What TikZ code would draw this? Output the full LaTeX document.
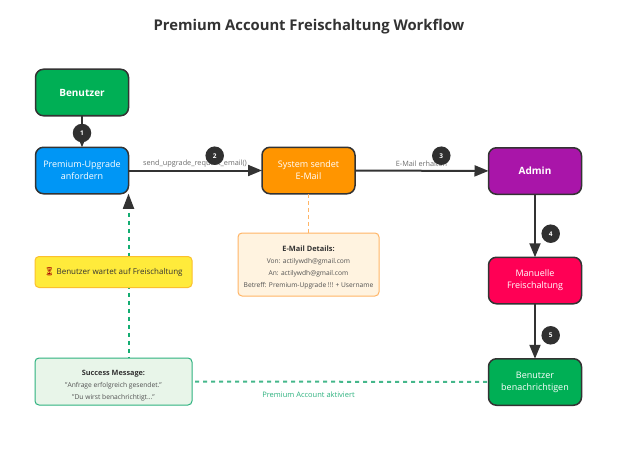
\documentclass[tikz,border=0pt]{standalone}
\usepackage{fontspec}
\setmainfont{Open Sans}
\newfontfamily\emojifont{Noto Emoji}
\usetikzlibrary{arrows.meta,calc}
\definecolor{ink}{HTML}{333333}
\definecolor{labelgray}{HTML}{6E6E6E}
\definecolor{cgreen}{HTML}{00AF55}
\definecolor{cblue}{HTML}{0096F5}
\definecolor{corange}{HTML}{FF9500}
\definecolor{cpurple}{HTML}{A915A9}
\definecolor{cred}{HTML}{FF0055}
\definecolor{cyellowf}{HTML}{FFEB3B}
\definecolor{cyellowd}{HTML}{FBC02D}
\definecolor{mailf}{HTML}{FFF3E0}
\definecolor{maild}{HTML}{FFB566}
\definecolor{okf}{HTML}{E8F5E9}
\definecolor{okd}{HTML}{2DB27F}
\definecolor{okline}{HTML}{14AD72}
\definecolor{oklight}{HTML}{45B78B}
\tikzset{
  x=1pt,y=-1pt,
  flowbox/.style={draw=ink,line width=1.5pt,rounded corners=8pt,minimum width=93pt,minimum height=46.5pt,
    inner sep=0pt,outer sep=0pt,text=white,font=\fontsize{9}{12.2}\selectfont,align=center},
  notebox/.style={draw,line width=1pt,rounded corners=4pt,inner sep=0pt,outer sep=0pt,align=center,text=ink},
  badge/.style={circle,fill=ink!95!black,text=white,minimum size=18.5pt,inner sep=0pt,font=\bfseries\fontsize{6.5}{7}\selectfont},
  flow/.style={draw=ink,line width=2pt,-{Triangle[length=14pt,width=11pt]}},
  oknote/.style={draw=okline,line width=2pt,dash pattern=on 4pt off 4pt},
  mailnote/.style={draw=maild,line width=1pt,dash pattern=on 4pt off 3pt},
  edgelabel/.style={text=labelgray,font=\fontsize{7.3}{8}\selectfont,inner sep=0pt}
}
\begin{document}
\begin{tikzpicture}
\useasboundingbox (0,0) rectangle (619,460);
\fill[white] (0,0) rectangle (619,460);
\node[font=\bfseries\fontsize{14.8}{17}\selectfont,text=ink] (title) at (309,26.5) {Premium Account Freischaltung Workflow};

\node[flowbox,fill=cgreen,font=\bfseries\fontsize{10}{12}\selectfont] (user) at (82,92.5) {Benutzer};
\node[flowbox,fill=cblue] (req) at (82,170.5) {Premium-Upgrade\\anfordern};
\node[flowbox,fill=corange] (sys) at (308.5,170.5) {System sendet\\E-Mail};
\node[flowbox,fill=cpurple,font=\bfseries\fontsize{10}{12}\selectfont] (admin) at (535,171) {Admin};
\node[flowbox,fill=cred] (manual) at (535,280.5) {Manuelle\\Freischaltung};
\node[flowbox,fill=cgreen] (notify) at (535,382) {Benutzer\\benachrichtigen};

% green dashed connector runs behind the notes
\draw[oknote] ($(req.south east)+(0,19)$) -- (req.south east |- 0,358) coordinate (okup);
\node[notebox,draw=cyellowd,fill=cyellowf,minimum width=157pt,minimum height=31pt,font=\fontsize{8}{10}\selectfont] (wait) at (113.5,272) {{\emojifont\textcolor{red!65!black}{⏳}} Benutzer wartet auf Freischaltung};
\node[notebox,draw=okd,fill=okf,minimum width=157pt,minimum height=47pt] (ok) at (113.5,381.5) {\rule{0pt}{14pt}{\bfseries\fontsize{7.3}{12}\selectfont Success Message:}\\{\fontsize{6.7}{12}\selectfont\color{ink!85}"Anfrage erfolgreich gesendet."}\\{\fontsize{6.7}{12}\selectfont\color{ink!85}"Du wirst benachrichtigt..."}};
\node[notebox,draw=maild,fill=mailf,minimum width=141pt,minimum height=63pt] (mail) at (308.5,264.5) {\rule{0pt}{11pt}{\bfseries\fontsize{7.4}{12}\selectfont E-Mail Details:}\\{\fontsize{6.65}{12}\selectfont\color{ink!85}Von: actilywdh@gmail.com}\\{\fontsize{6.65}{12}\selectfont\color{ink!85}An: actilywdh@gmail.com}\\{\fontsize{6.65}{12}\selectfont\color{ink!85}Betreff: Premium-Upgrade !!! + Username}};

\draw[-{Triangle[length=15pt,width=11.5pt]},draw=ink,fill=ink,draw opacity=0,line width=0pt] ($(req.south east)+(0,15)$) -- (req.south east);
\draw[oknote,draw=oklight] ($(ok.east)+(3,0)$) -- (notify.west);
\draw[mailnote] (sys.south) -- (mail.north);

\draw[flow] (user) -- (req);
\draw[flow] (req) -- (sys);
\draw[flow] (sys) -- (admin);
\draw[flow] (admin) -- (manual);
\draw[flow] (manual) -- (notify);

\node[edgelabel] (l2) at (195,164) {send\_upgrade\_request\_email()};
\node[edgelabel] (l3) at (421.5,164) {E-Mail erhalten};
\node[edgelabel,text=okd,font=\fontsize{7.5}{8}\selectfont] (l6) at (308.5,395) {Premium Account aktiviert};

\node[badge] (b1) at (82,133) {1};
\node[badge] (b2) at (214.7,155.7) {2};
\node[badge] (b3) at (441.3,155.7) {3};
\node[badge] (b4) at (550.7,233.7) {4};
\node[badge] (b5) at (550.7,335.3) {5};
\end{tikzpicture}
\end{document}
